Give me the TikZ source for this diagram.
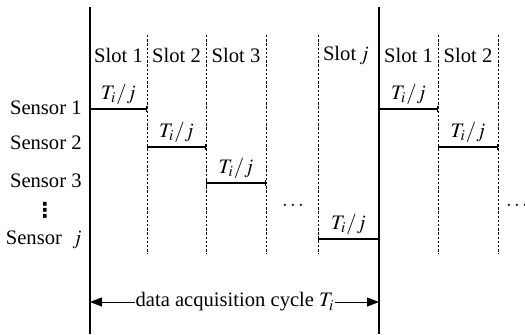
\documentclass[tikz,border=0pt]{standalone}
\usepackage{mathptmx}
\usepackage[no-math]{fontspec}
\setmainfont{Liberation Serif}
\newfontfamily\symfont{DejaVu Sans}
\usetikzlibrary{arrows.meta, positioning}
\tikzset{
	cycle line/.style={line width=0.7pt},
	slot line/.style={line width=0.45pt, dash pattern=on 1.2pt off 0.9pt},
	period/.style={line width=0.55pt, {Bar[width=3pt]}-{Bar[width=3pt]}},
	sensor/.style={anchor=east, inner sep=0pt},
	slot/.style={inner sep=0pt},
	span label/.style={above=2pt, inner sep=0pt},
	span/.style={-{Triangle[length=6pt, width=4.5pt]}, line width=0.5pt}
}

\begin{document}
\begin{tikzpicture}[x=0.5pt, y=-0.5pt, font=\fontsize{10.3}{12}\selectfont]
	
	\useasboundingbox (0,0) rectangle (525,334);
	
	% Cycle borders (solid)
	\draw[cycle line] (90,7) -- (90,334);
	\draw[cycle line] (379,7) -- (379,334);
	
	% Slot borders (dashed)
	\foreach \x in {147, 206, 266, 318, 438, 498}
		\draw[slot line] (\x,35) -- (\x,254);
	
	% Slot names
	\node[slot] (L1) at (118.5,55) {Slot 1};
	\node[slot] (L2) at (176.5,55) {Slot 2};
	\node[slot] (L3) at (236,55) {Slot 3};
	\node[slot] (Lj) at (346,55) {Slot\,$j$};
	\node[slot] (R1) at (408.5,55) {Slot 1};
	\node[slot] (R2) at (468,55) {Slot 2};
	
	% Sensors
	\node[sensor] (S1) at (82,108) {Sensor 1};
	\node[sensor] (S2) at (82,143) {Sensor 2};
	\node[sensor] (S3) at (82,181) {Sensor 3};
	\node[inner sep=0pt] (Sd) at (45,210) {\symfont\bfseries ⋮};
	\node[sensor] (Sj) at (82,240) {Sensor \ $j$};
	
	% Transmission periods
	\coordinate (a1) at (90,109);   \coordinate (b1) at (147,109);
	\coordinate (a2) at (147,147);  \coordinate (b2) at (206,147);
	\coordinate (a3) at (206,183);  \coordinate (b3) at (266,183);
	\coordinate (aj) at (318,239);  \coordinate (bj) at (379,239);
	\coordinate (c1) at (379,109);  \coordinate (d1) at (438,109);
	\coordinate (c2) at (438,147);  \coordinate (d2) at (498,147);
	
	\draw[period] (a1) -- node[span label] {$T_i/j$} (b1);   % sensor 1
	\draw[period] (a2) -- node[span label] {$T_i/j$} (b2);   % sensor 2
	\draw[period] (a3) -- node[span label] {$T_i/j$} (b3);   % sensor 3
	\draw[period] (aj) -- node[span label] {$T_i/j$} (bj);   % sensor j
	\draw[period] (c1) -- node[span label] {$T_i/j$} (d1);   % next cycle
	\draw[period] (c2) -- node[span label] {$T_i/j$} (d2);
	
	% Omitted slots
	\node (dots1) at (293,206) {$\cdots$};
	\node (dots2) at (517,206) {$\cdots$};
	
	% Cycle length
	\node[inner sep=0pt] (cyc) at (235,302) {data acquisition cycle $T_i$};
	\coordinate (cl) at (90,302);
	\coordinate (cr) at (379,302);
	\draw[span] (cyc) -- (cl);
	\draw[span] (cyc) -- (cr);
	
\end{tikzpicture}
\end{document}
